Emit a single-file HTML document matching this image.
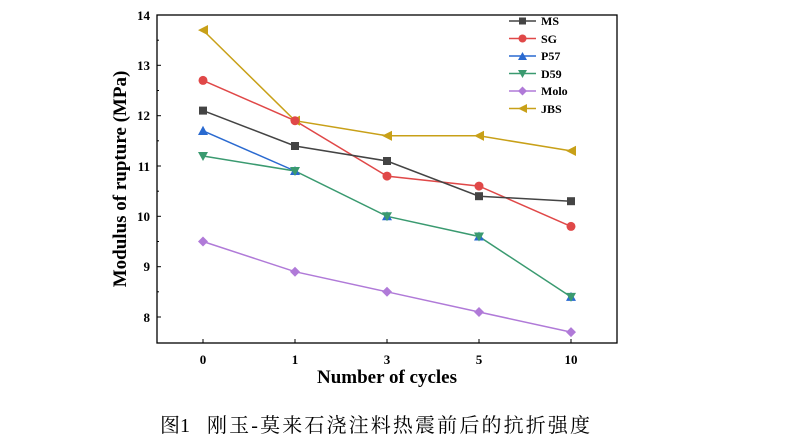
<!DOCTYPE html>
<html><head><meta charset="utf-8"><style>body{margin:0;background:#fff}svg{display:block}</style></head><body>
<svg width="793" height="447" viewBox="0 0 793 447" xmlns="http://www.w3.org/2000/svg" font-family="Liberation Serif, serif">
<rect x="157" y="15" width="460" height="328" fill="none" stroke="#000" stroke-width="1.3"/>
<g stroke="#000" stroke-width="1">
<line x1="157" y1="15" x2="161" y2="15"/><line x1="157" y1="65.3" x2="161" y2="65.3"/><line x1="157" y1="115.7" x2="161" y2="115.7"/><line x1="157" y1="166" x2="161" y2="166"/><line x1="157" y1="216.3" x2="161" y2="216.3"/><line x1="157" y1="266.7" x2="161" y2="266.7"/><line x1="157" y1="317" x2="161" y2="317"/>
<line x1="157" y1="40.2" x2="159" y2="40.2"/><line x1="157" y1="90.5" x2="159" y2="90.5"/><line x1="157" y1="140.8" x2="159" y2="140.8"/><line x1="157" y1="191.2" x2="159" y2="191.2"/><line x1="157" y1="241.5" x2="159" y2="241.5"/><line x1="157" y1="291.8" x2="159" y2="291.8"/>
<line x1="203" y1="343" x2="203" y2="339"/><line x1="295" y1="343" x2="295" y2="339"/><line x1="387" y1="343" x2="387" y2="339"/><line x1="479" y1="343" x2="479" y2="339"/><line x1="571" y1="343" x2="571" y2="339"/>
</g>
<g font-size="13" font-weight="bold" text-anchor="end">
<text x="150" y="20">14</text><text x="150" y="70">13</text><text x="150" y="120">12</text><text x="150" y="171">11</text><text x="150" y="221">10</text><text x="150" y="271">9</text><text x="150" y="322">8</text>
</g>
<g font-size="13" font-weight="bold" text-anchor="middle">
<text x="203" y="364">0</text><text x="295" y="364">1</text><text x="387" y="364">3</text><text x="479" y="364">5</text><text x="571" y="364">10</text>
</g>
<text x="387" y="383" font-size="19" font-weight="bold" text-anchor="middle">Number of cycles</text>
<text transform="translate(126,179) rotate(-90)" font-size="19" font-weight="bold" text-anchor="middle">Modulus of rupture (MPa)</text>
<polyline fill="none" stroke="#c8a018" stroke-width="1.5" points="203,30.1 295,120.7 387,135.8 479,135.8 571,150.9"/>
<polyline fill="none" stroke="#e04848" stroke-width="1.5" points="203,80.4 295,120.7 387,176.1 479,186.1 571,226.4"/>
<polyline fill="none" stroke="#444" stroke-width="1.5" points="203,110.6 295,146 387,161 479,196.2 571,201.2"/>
<polyline fill="none" stroke="#2a6ad0" stroke-width="1.5" points="203,130.8 295,171"/>
<polyline fill="none" stroke="#3a9a70" stroke-width="1.5" points="203,156 295,171 387,216.3 479,236.5 571,296.9"/>
<polyline fill="none" stroke="#b07ad8" stroke-width="1.5" points="203,241.5 295,271.7 387,291.8 479,312 571,332.1"/>
<g fill="#c8a018"><polygon points="198,30.1 208,25 208,35.2"/><polygon points="290,120.7 300,115.6 300,125.8"/><polygon points="382,135.8 392,130.7 392,140.9"/><polygon points="474,135.8 484,130.7 484,140.9"/><polygon points="566,150.9 576,145.8 576,156"/></g>
<g fill="#e04848"><circle cx="203" cy="80.4" r="4.5"/><circle cx="295" cy="120.7" r="4.5"/><circle cx="387" cy="176.1" r="4.5"/><circle cx="479" cy="186.1" r="4.5"/><circle cx="571" cy="226.4" r="4.5"/></g>
<g fill="#444"><rect x="199" y="106.6" width="8" height="8"/><rect x="291" y="142" width="8" height="8"/><rect x="383" y="157" width="8" height="8"/><rect x="475" y="192.2" width="8" height="8"/><rect x="567" y="197.2" width="8" height="8"/></g>
<g fill="#2a6ad0"><polygon points="203,125.8 208,135 198,135"/><polygon points="295,166 300,175 290,175"/><polygon points="387,211.3 392,220.3 382,220.3"/><polygon points="479,231.5 484,240.5 474,240.5"/><polygon points="571,291.9 576,300.9 566,300.9"/></g>
<g fill="#3a9a70"><polygon points="198,152 208,152 203,161"/><polygon points="290,167 300,167 295,176"/><polygon points="382,212.3 392,212.3 387,221.3"/><polygon points="474,232.5 484,232.5 479,241.5"/><polygon points="566,292.9 576,292.9 571,301.9"/></g>
<g fill="#b07ad8"><polygon points="203,236.5 208,241.5 203,246.5 198,241.5"/><polygon points="295,266.7 300,271.7 295,276.7 290,271.7"/><polygon points="387,286.8 392,291.8 387,296.8 382,291.8"/><polygon points="479,307 484,312 479,317 474,312"/><polygon points="571,327.1 576,332.1 571,337.1 566,332.1"/></g>
<g stroke-width="1.5" font-size="12" font-weight="bold">
<line x1="509" y1="21" x2="536" y2="21" stroke="#444"/><rect x="519" y="17.5" width="7" height="7" fill="#444"/><text x="541" y="25">MS</text>
<line x1="509" y1="38.5" x2="536" y2="38.5" stroke="#e04848"/><circle cx="522.5" cy="38.5" r="4" fill="#e04848"/><text x="541" y="43">SG</text>
<line x1="509" y1="56" x2="536" y2="56" stroke="#2a6ad0"/><polygon points="522.5,52 527,60 518,60" fill="#2a6ad0"/><text x="541" y="60">P57</text>
<line x1="509" y1="73.5" x2="536" y2="73.5" stroke="#3a9a70"/><polygon points="518,70 527,70 522.5,78" fill="#3a9a70"/><text x="541" y="78">D59</text>
<line x1="509" y1="91" x2="536" y2="91" stroke="#b07ad8"/><polygon points="522.5,86.5 527,91 522.5,95.5 518,91" fill="#b07ad8"/><text x="541" y="95">Molo</text>
<line x1="509" y1="108.5" x2="536" y2="108.5" stroke="#c8a018"/><polygon points="518,108.5 527,104 527,113" fill="#c8a018"/><text x="541" y="113">JBS</text>
</g>
<g font-size="20" font-family="Liberation Serif, Noto Serif CJK SC, serif">
<text x="160" y="432">图1</text>
<text x="207" y="432" textLength="383" lengthAdjust="spacing">刚玉-莫来石浇注料热震前后的抗折强度</text>
</g>
</svg>
</body></html>
